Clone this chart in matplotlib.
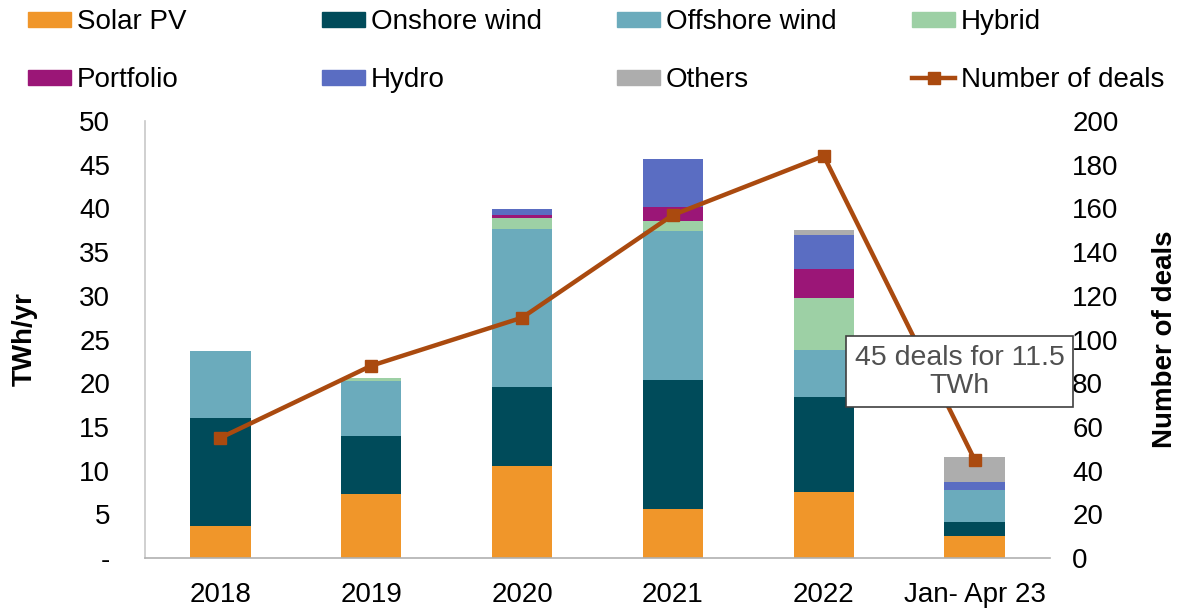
import matplotlib
matplotlib.use("Agg")
import matplotlib.pyplot as plt
import numpy as np
from matplotlib.patches import Patch
from matplotlib.lines import Line2D

plt.rcParams['font.family'] = ['Liberation Sans', 'DejaVu Sans']

periods = ["2018", "2019", "2020", "2021", "2022", "Jan- Apr 23"]

# TWh/yr contracted, by technology
solar_pv = [3.7, 7.3, 10.5, 5.6, 7.55, 2.5]
onshore_wind = [12.3, 6.65, 9.1, 14.8, 10.9, 1.65]
offshore_wind = [7.7, 6.25, 18.0, 17.05, 5.35, 3.65]
hybrid = [0, 0.4, 1.3, 1.15, 5.9, 0]
portfolio = [0, 0, 0.4, 1.6, 3.4, 0]
hydro = [0, 0, 0.6, 5.4, 3.8, 0.9]
others = [0, 0, 0, 0, 0.65, 2.8]

n_deals = [55, 88, 110, 157, 184, 45]

series = [
    ("Solar PV", solar_pv, "#F0962A"),
    ("Onshore wind", onshore_wind, "#004B5A"),
    ("Offshore wind", offshore_wind, "#6BABBC"),
    ("Hybrid", hybrid, "#9DD0A5"),
    ("Portfolio", portfolio, "#9B1677"),
    ("Hydro", hydro, "#5A6DC2"),
    ("Others", others, "#ADADAD"),
]
line_color = "#AA4A0F"

fig = plt.figure(figsize=(11.82, 6.08), dpi=100)
ax = fig.add_axes([145 / 1182, 50 / 608, 905 / 1182, 437 / 608])

x = np.arange(len(periods))
bottom = np.zeros(len(periods))
for name, vals, col in series:
    ax.bar(x, vals, width=0.4, bottom=bottom, color=col, label=name)
    bottom += np.array(vals)

ax.set_xlim(-0.5, 5.5)
ax.set_ylim(0, 50)
ax.set_yticks(range(0, 51, 5))
ax.set_yticklabels(["-"] + [str(v) for v in range(5, 51, 5)])
ax.set_xticks(x)
ax.set_xticklabels(periods)
ax.tick_params(axis='both', length=0, labelsize=20)
ax.tick_params(axis='y', pad=25)
ax.tick_params(axis='x', pad=17)
ax.set_ylabel("TWh/yr", fontsize=20, fontweight='bold', labelpad=30)
for s in ["top", "right"]:
    ax.spines[s].set_visible(False)
ax.spines["left"].set_color("#C8C8C8")
ax.spines["bottom"].set_color("#B0B0B0")
ax.spines["left"].set_linewidth(1.2)
ax.spines["bottom"].set_linewidth(1.2)

# number of deals on secondary axis
ax2 = ax.twinx()
ax2.plot(x, n_deals, color=line_color, linewidth=3.2, marker='s', markersize=9)
ax2.set_ylim(0, 200)
ax2.set_yticks(range(0, 201, 20))
ax2.tick_params(axis='y', length=0, labelsize=20, pad=16)
ax2.set_ylabel("Number of deals", fontsize=20, fontweight='bold', labelpad=24)
for s in ax2.spines.values():
    s.set_visible(False)

ax2.text(4.9, 85.2, "45 deals for 11.5\nTWh", fontsize=20.5, color="#505050",
         ha='center', va='center', zorder=5, linespacing=1.1,
         bbox=dict(boxstyle='square,pad=0.3', fc='white', ec='#404040', lw=1.2))

# legend laid out in four columns of two entries
handles = [Patch(color=c) for _, _, c in series]
labels = [n for n, _, _ in series]
deal_handle = Line2D([0], [0], color=line_color, lw=3.2, marker='s', markersize=9)
columns = [
    ([handles[0], handles[4]], [labels[0], labels[4]], 28),
    ([handles[1], handles[5]], [labels[1], labels[5]], 322),
    ([handles[2], handles[6]], [labels[2], labels[6]], 617),
    ([handles[3], deal_handle], [labels[3], "Number of deals"], 912),
]
for h, l, xpix in columns:
    fig.legend(h, l, loc='upper left', bbox_to_anchor=(xpix / 1182, 0.985),
               frameon=False, fontsize=20, borderpad=0, borderaxespad=0,
               handlelength=1.55, handleheight=0.45, handletextpad=0.2,
               labelspacing=1.15)

fig.savefig("out.png", dpi=100)
